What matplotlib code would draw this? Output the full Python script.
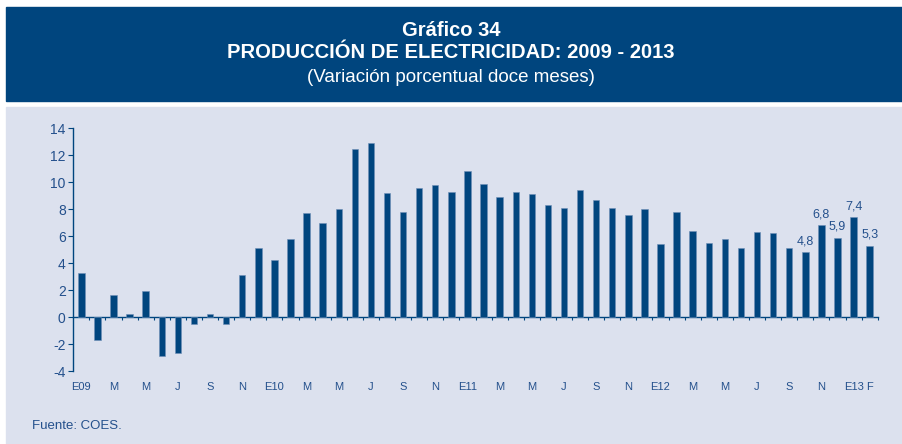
import numpy as np
import matplotlib.pyplot as plt
from matplotlib.patches import Rectangle

# variacion porcentual doce meses, ene 2009 - feb 2013
valores = [3.3, -1.7, 1.6, 0.25, 1.9, -2.9, -2.7, -0.5, 0.2, -0.5, 3.1, 5.1,
           4.2, 5.8, 7.7, 7.0, 8.0, 12.5, 12.9, 9.2, 7.8, 9.6, 9.8, 9.3,
           10.8, 9.9, 8.9, 9.3, 9.1, 8.3, 8.1, 9.4, 8.7, 8.1, 7.6, 8.0,
           5.4, 7.8, 6.4, 5.5, 5.8, 5.1, 6.3, 6.2, 5.1, 4.8, 6.8, 5.9,
           7.4, 5.3]
etiquetas_x = ['E09', 'M', 'M', 'J', 'S', 'N', 'E10', 'M', 'M', 'J', 'S', 'N',
               'E11', 'M', 'M', 'J', 'S', 'N', 'E12', 'M', 'M', 'J', 'S', 'N',
               'E13', 'F']
pos_etiquetas = list(range(0, 50, 2)) + [49]
# ultimos cinco meses llevan su valor encima
idx_rotulos = [45, 46, 47, 48, 49]

azul = '#00457e'
texto = '#24508c'
fondo = '#dce1ee'

plt.rcParams['font.family'] = ['Liberation Sans', 'DejaVu Sans']
plt.rcParams['axes.unicode_minus'] = False

fig = plt.figure(figsize=(9.02, 4.44), dpi=100)
fig.patch.set_facecolor('white')

# cabecera y fondo del grafico
fig.patches.append(Rectangle((6 / 902, 1 - 100.7 / 444), 1 - 6 / 902, (100.7 - 7) / 444,
                             transform=fig.transFigure, color=azul, zorder=-5))
fig.patches.append(Rectangle((6 / 902, 0), 1 - 6 / 902, 1 - 107 / 444,
                             transform=fig.transFigure, color=fondo, zorder=-5))

fig.text(0.5, 1 - 30 / 444, 'Gráfico 34', ha='center', va='center',
         color='white', fontsize=14.5, fontweight='bold')
fig.text(0.5, 1 - 52 / 444, 'PRODUCCIÓN DE ELECTRICIDAD: 2009 - 2013', ha='center',
         va='center', color='white', fontsize=14.5, fontweight='bold')
fig.text(0.5, 1 - 77 / 444, '(Variación porcentual doce meses)', ha='center',
         va='center', color='white', fontsize=13.5)

ax = fig.add_axes([73.3 / 902, 73 / 444, (877.7 - 73.3) / 902, (371 - 128.3) / 444])
ax.set_zorder(2)
ax.set_facecolor('none')

x = np.arange(len(valores))
ax.bar(x, valores, width=0.4, color=azul, edgecolor='#6f8fb8', linewidth=0.4, zorder=3)

for i in idx_rotulos:
    ax.text(x[i], valores[i] + 0.35, f'{valores[i]:.1f}'.replace('.', ','),
            ha='center', va='bottom', color=texto, fontsize=9)

ax.set_xlim(-0.5, len(valores) - 0.5)
ax.set_ylim(-4, 14)
ax.set_yticks(np.arange(-4, 15, 2))

for s in ['top', 'right']:
    ax.spines[s].set_visible(False)
ax.spines['left'].set_color(azul)
ax.spines['left'].set_linewidth(1.0)
ax.spines['bottom'].set_position(('data', 0))
ax.spines['bottom'].set_color(azul)
ax.spines['bottom'].set_linewidth(1.0)

ax.set_xticks(pos_etiquetas)
ax.set_xticklabels(etiquetas_x)
ax.set_xticks(np.arange(0.5, len(valores), 1), minor=True)
ax.tick_params(axis='x', which='major', length=0, pad=47, labelsize=8, labelcolor=texto)
ax.tick_params(axis='x', which='minor', length=2.5, width=0.8, color=azul, direction='out')
ax.tick_params(axis='y', length=3.5, width=0.8, color=azul, labelsize=10,
               labelcolor=texto, pad=2)

fig.text(32 / 902, 1 - 426 / 444, 'Fuente: COES.', ha='left', va='center',
         color=texto, fontsize=9.5)

fig.savefig('out.png', dpi=100, facecolor=fig.get_facecolor())
